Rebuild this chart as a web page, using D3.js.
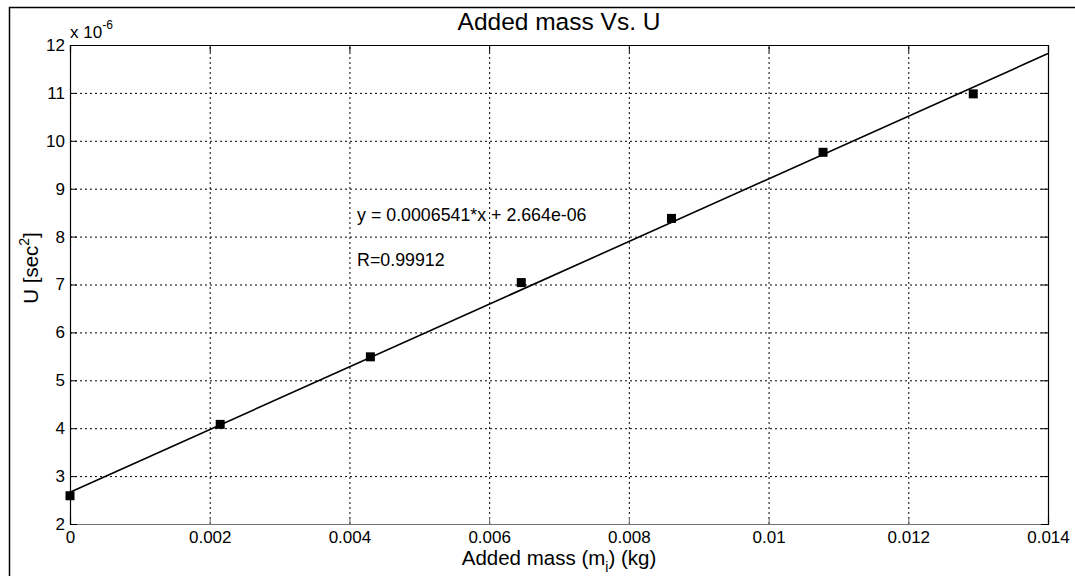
<!doctype html>
<html>
<head>
<style>
body { margin: 0; background: #fff; }
svg { display: block; font-family: Arial, "Liberation Sans", sans-serif; }
.grid line { stroke: #000; stroke-dasharray: 2,3; stroke-width: 1; }
.grid path { display: none; }
.tick text { font-size: 17px; fill: #000; }
</style>
</head>
<body>
<div id="root"></div>
<script src="https://d3js.org/d3.v7.min.js"></script>
<script>

// measured points
var massKg = [0, 0.00215, 0.0043, 0.00646, 0.00861, 0.01078, 0.01293];
var uSec2 = [2.59e-6, 4.08e-6, 5.49e-6, 7.04e-6, 8.38e-6, 9.76e-6, 10.98e-6];

// fit from the annotation
var fitSlope = 0.0006541;
var fitIntercept = 2.664e-6;
var fitRange = [0, 0.014];
var fitText = 'y = 0.0006541*x + 2.664e-06';
var rText = 'R=0.99912';
var textAt = [[0.00411, 8.33e-6], [0.00411, 7.39e-6]];

var xTicks = [0, 0.002, 0.004, 0.006, 0.008, 0.01, 0.012, 0.014];
var yTicks = [2e-6, 3e-6, 4e-6, 5e-6, 6e-6, 7e-6, 8e-6, 9e-6, 10e-6, 11e-6, 12e-6];

var W = 1075, H = 576;
var pL = 70, pR = 1048, pT = 45, pB = 524;

var x = d3.scaleLinear().domain([0, 0.014]).range([pL, pR]);
var y = d3.scaleLinear().domain([2e-6, 12e-6]).range([pB, pT]);

var svg = d3.select('#root').append('svg')
	.attr('width', W)
	.attr('height', H);

svg.append('rect')
	.attr('width', W).attr('height', H)
	.attr('fill', '#fff');

// figure frame
svg.append('rect')
	.attr('x', 9.5).attr('y', 7.5)
	.attr('width', 1200).attr('height', 700)
	.attr('fill', 'none')
	.attr('stroke', '#000')
	.attr('stroke-width', 1.5);

// grid
svg.append('g')
	.attr('class', 'grid')
	.attr('transform', 'translate(0,' + pB + ')')
	.call(d3.axisBottom(x).tickValues(xTicks.slice(1, -1)).tickSize(-(pB - pT)).tickFormat(''));
svg.append('g')
	.attr('class', 'grid')
	.attr('transform', 'translate(' + pL + ',0)')
	.call(d3.axisLeft(y).tickValues(yTicks.slice(1, -1)).tickSize(-(pR - pL)).tickFormat(''));

// axes
var fmtX = function(d) { return String(+d.toFixed(3)); };
var fmtY = function(d) { return String(Math.round(d * 1e6)); };

var gx = svg.append('g')
	.attr('transform', 'translate(0,' + pB + ')')
	.call(d3.axisBottom(x).tickValues(xTicks).tickSize(-7).tickPadding(7).tickFormat(fmtX));
gx.select('.domain').attr('stroke', '#707070');
gx.selectAll('.tick line').attr('stroke', '#707070');

var gy = svg.append('g')
	.attr('transform', 'translate(' + pL + ',0)')
	.call(d3.axisLeft(y).tickValues(yTicks).tickSize(-7).tickPadding(5).tickFormat(fmtY));

svg.append('g')
	.attr('transform', 'translate(0,' + pT + ')')
	.call(d3.axisTop(x).tickValues(xTicks).tickSize(-7).tickFormat(''));
svg.append('g')
	.attr('transform', 'translate(' + pR + ',0)')
	.call(d3.axisRight(y).tickValues(yTicks).tickSize(-7).tickFormat(''));

svg.selectAll('.domain').attr('stroke-width', 1.2);

// fit line
svg.append('line')
	.attr('x1', x(fitRange[0])).attr('y1', y(fitSlope * fitRange[0] + fitIntercept))
	.attr('x2', x(fitRange[1])).attr('y2', y(fitSlope * fitRange[1] + fitIntercept))
	.attr('stroke', '#000')
	.attr('stroke-width', 1.6);

// markers
var s = 9;
svg.selectAll('.pt')
	.data(massKg)
	.enter().append('rect')
		.attr('class', 'pt')
		.attr('x', function(d) { return x(d) - s / 2; })
		.attr('y', function(d, i) { return y(uSec2[i]) - s / 2; })
		.attr('width', s).attr('height', s)
		.attr('fill', '#000');

// annotations
svg.append('text')
	.attr('x', x(textAt[0][0])).attr('y', y(textAt[0][1]))
	.attr('font-size', 17.8)
	.text(fitText);
svg.append('text')
	.attr('x', x(textAt[1][0])).attr('y', y(textAt[1][1]))
	.attr('font-size', 17.8)
	.text(rText);

// exponent
var ex = svg.append('text')
	.attr('x', pL).attr('y', 38)
	.attr('font-size', 17);
ex.append('tspan').text('x 10');
ex.append('tspan').attr('dy', -9).attr('font-size', 12).text('-6');

// title
svg.append('text')
	.attr('x', (pL + pR) / 2).attr('y', 30)
	.attr('text-anchor', 'middle')
	.attr('font-size', 24.5)
	.text('Added mass Vs. U');

// x label
var xl = svg.append('text')
	.attr('x', (pL + pR) / 2).attr('y', 565)
	.attr('text-anchor', 'middle')
	.attr('font-size', 20.5);
xl.append('tspan').text('Added mass (m');
xl.append('tspan').attr('dy', 7).attr('font-size', 14).text('i');
xl.append('tspan').attr('dy', -7).text(') (kg)');

// y label
var yl = svg.append('text')
	.attr('transform', 'translate(38,268) rotate(-90)')
	.attr('text-anchor', 'middle')
	.attr('font-size', 20.5);
yl.append('tspan').text('U [sec');
yl.append('tspan').attr('dy', -9).attr('font-size', 14).text('2');
yl.append('tspan').attr('dy', 9).text(']');

</script>
</body>
</html>
